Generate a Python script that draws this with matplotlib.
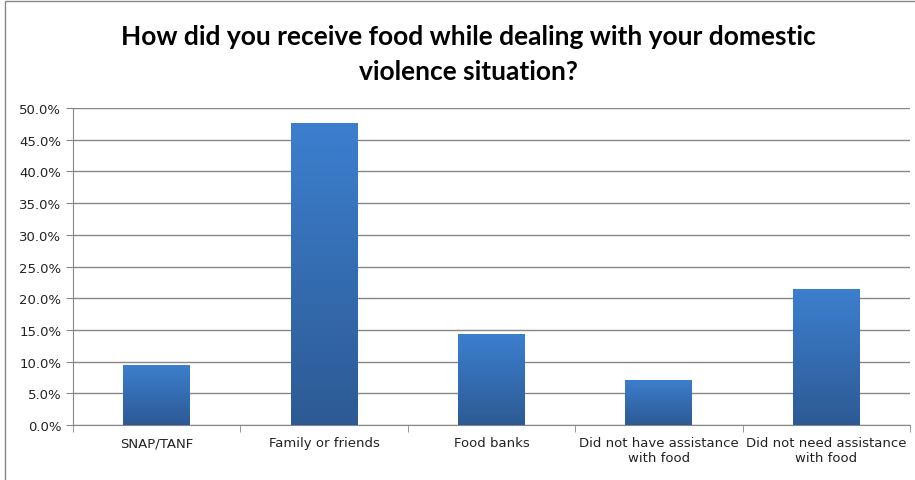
import numpy as np
import matplotlib
matplotlib.use("Agg")
import matplotlib.pyplot as plt
from matplotlib.colors import LinearSegmentedColormap
from matplotlib.patches import Rectangle
from matplotlib.ticker import PercentFormatter, FixedLocator

categories = ["SNAP/TANF", "Family or friends", "Food banks",
              "Did not have assistance\nwith food", "Did not need assistance\nwith food"]
values = [9.5, 47.6, 14.3, 7.1, 21.4]
yticks = [0, 5, 10, 15, 20, 25, 30, 35, 40, 45, 50]

fig = plt.figure(figsize=(9.15, 4.81), dpi=100)
ax = fig.add_axes([0.0798, 0.1143, 0.9147, 0.6591])

x = np.arange(len(categories))
bars = ax.bar(x, values, width=0.4, color="none", edgecolor="none", zorder=3)

# vertical gradient inside each bar
cmap = LinearSegmentedColormap.from_list("excel", ["#2d5a94", "#3c7fcf"])
grad = np.linspace(0, 1, 256).reshape(-1, 1)
for b in bars:
    x0, w, h = b.get_x(), b.get_width(), b.get_height()
    im = ax.imshow(grad, cmap=cmap, origin="lower", aspect="auto",
                   extent=[x0, x0 + w, 0, h], zorder=3)
    im.set_clip_path(b)

ax.set_xlim(-0.5, len(categories) - 0.5)
ax.set_ylim(0, 50)
ax.set_yticks(yticks)
ax.yaxis.set_major_formatter(PercentFormatter(decimals=1))
ax.set_xticks(x)
ax.set_xticklabels(categories)
ax.xaxis.set_minor_locator(FixedLocator(np.arange(-0.5, len(categories), 1)))
ax.tick_params(axis="x", which="major", length=0, pad=8, labelsize=9.5, colors="#222222")
ax.tick_params(axis="x", which="minor", length=5, color="#868686")
ax.tick_params(axis="y", length=5, labelsize=9.5, colors="#868686", labelcolor="#222222")

ax.grid(axis="y", color="#868686", linewidth=1, zorder=0)
ax.set_axisbelow(True)
for side in ["top", "right"]:
    ax.spines[side].set_visible(False)
for side in ["left", "bottom"]:
    ax.spines[side].set_color("#868686")

fig.text(0.512, 0.887, "How did you receive food while dealing with your domestic\nviolence situation?",
         ha="center", va="center", fontsize=19, fontweight="bold", linespacing=1.55,
         family=["Lato", "DejaVu Sans"])

# outer chart frame
fig.patches.append(Rectangle((5 / 915, -0.1), 1.2, 1.1 - 1.5 / 481, transform=fig.transFigure,
                             fill=False, edgecolor="#888888", linewidth=1))

fig.savefig("out.png", dpi=100)
